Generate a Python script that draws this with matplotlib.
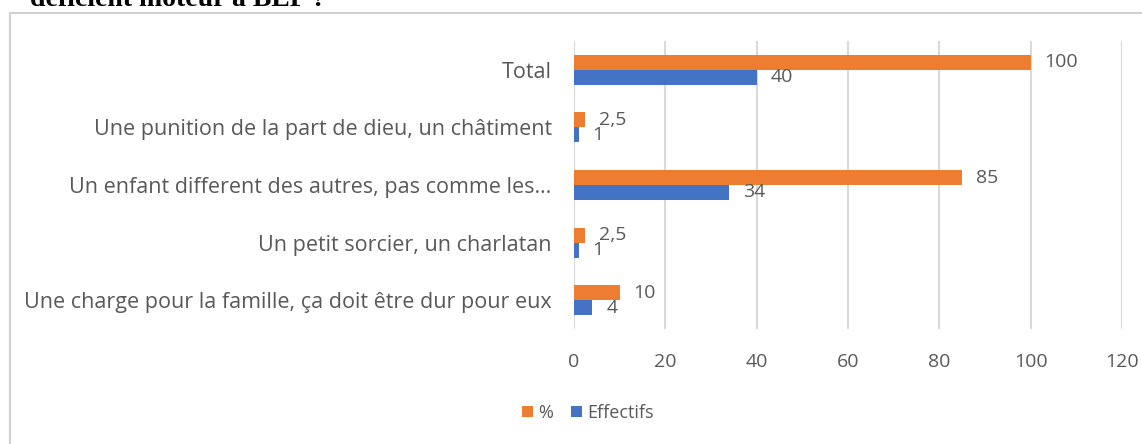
import numpy as np
import matplotlib.pyplot as plt
from matplotlib.patches import Rectangle

categories = [
    "Une charge pour la famille, ça doit être dur pour eux",
    "Un petit sorcier, un charlatan",
    "Un enfant different des autres, pas comme les…",
    "Une punition de la part de dieu, un châtiment",
    "Total",
]
effectifs = [4, 1, 34, 1, 40]
pourcent = [10, 2.5, 85, 2.5, 100]
pourcent_labels = ["10", "2,5", "85", "2,5", "100"]
effectifs_labels = ["4", "1", "34", "1", "40"]

orange = "#ED7D31"
blue = "#4472C4"
txt = "#595959"
font = "Open Sans"

fig = plt.figure(figsize=(11.42, 4.44), dpi=100)
ax = fig.add_axes([0.5026, 0.259, 0.98 - 0.5026 + 0.0025, 0.9077 - 0.259])

y = np.arange(len(categories))
h = 0.26
b1 = ax.barh(y + h / 2, pourcent, height=h, color=orange, label="%", zorder=3)
b2 = ax.barh(y - h / 2, effectifs, height=h, color=blue, label="Effectifs", zorder=3)

for bars, labs in ((b1, pourcent_labels), (b2, effectifs_labels)):
    for bar, lab in zip(bars, labs):
        ax.annotate(lab, (bar.get_width(), bar.get_y() + bar.get_height() / 2),
                    xytext=(14, 0), textcoords="offset pixels", va="center", ha="left",
                    fontsize=14, color=txt, family=font)

ax.set_xlim(0, 120)
ax.set_ylim(-0.5, len(categories) - 0.5)
ax.set_xticks(range(0, 121, 20))
ax.set_yticks(y)
ax.set_yticklabels(categories)
ax.grid(axis="x", color="#d9d9d9", lw=1.5, zorder=0)
ax.set_axisbelow(True)
for s in ax.spines.values():
    s.set_visible(False)
ax.tick_params(length=0, labelcolor=txt)
ax.tick_params(axis="y", pad=16, labelsize=15.5)
ax.tick_params(axis="x", pad=17, labelsize=14)
for t in ax.get_xticklabels() + ax.get_yticklabels():
    t.set_family(font)

# chart frame (cropped at right and bottom, as in the source)
fig.patches.append(Rectangle((10 / 1142, -0.05), 1.0, 1 - 13 / 444 + 0.05,
                             transform=fig.transFigure, fill=False, ec="#d0d0d0", lw=1.5,
                             clip_on=False))

fig.text(30 / 1142, 1 - 6 / 444, "deficient moteur à BEP ?", family="Liberation Serif",
         fontweight="bold", fontsize=20, va="baseline", ha="left", color="black")

fig.legend(handles=[b1, b2], loc="center", bbox_to_anchor=(588 / 1142, 1 - 413 / 444), ncol=2,
           frameon=False, handlelength=0.6, handleheight=0.6, handletextpad=0.3, columnspacing=1.0,
           prop={"family": font, "size": 13}, labelcolor=txt)

fig.savefig("out.png", dpi=100)
